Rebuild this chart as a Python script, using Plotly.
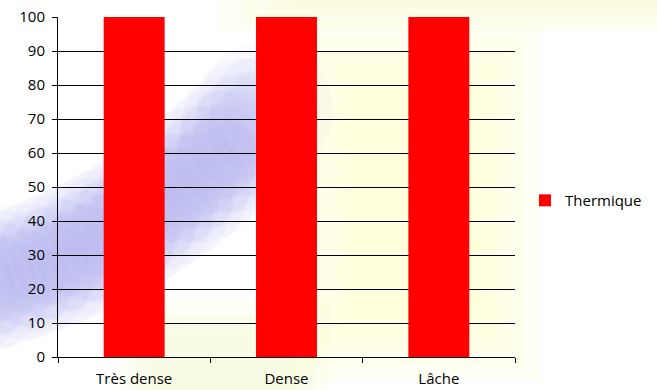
import plotly.graph_objects as go

categories = ["Très dense", "Dense", "Lâche"]
thermique = [100, 100, 100]
y_ticks = [0, 10, 20, 30, 40, 50, 60, 70, 80, 90, 100]

fig = go.Figure()
fig.add_trace(go.Bar(x=categories, y=thermique, name="Thermique",
                     marker=dict(color="#ff0000", line=dict(width=0))))

# soft, blurred background tints (stacked translucent shapes)
def px(x):
    return (x - 58) / 457
def py(y):
    return (357 - y) / 340

P0, C, P2 = (-40, 290), (140, 250), (265, 110)
n = 16
for i in range(n + 1):
    t = i / n
    cx = (1 - t) ** 2 * P0[0] + 2 * (1 - t) * t * C[0] + t ** 2 * P2[0]
    cy = (1 - t) ** 2 * P0[1] + 2 * (1 - t) * t * C[1] + t ** 2 * P2[1]
    for r in [68, 55, 42]:
        fig.add_shape(type="circle", xref="paper", yref="paper", layer="below",
                      x0=px(cx - r), x1=px(cx + r), y0=py(cy + r), y1=py(cy - r),
                      fillcolor="rgba(160,160,245,0.06)", line=dict(width=0))

for inset in [0, 15, 30, 45, 60]:
    fig.add_shape(type="rect", xref="paper", yref="paper", layer="below",
                  x0=px(290 + inset), x1=px(540 - inset), y0=py(380 - inset), y1=py(20 + inset),
                  fillcolor="rgba(252,252,185,0.12)", line=dict(width=0))
for inset in [0, 8, 16, 24]:
    fig.add_shape(type="rect", xref="paper", yref="paper", layer="below",
                  x0=px(220 + inset * 3), x1=px(660), y0=py(32 - inset), y1=py(-10),
                  fillcolor="rgba(245,250,190,0.14)", line=dict(width=0))
for inset in [0, 15, 30]:
    fig.add_shape(type="rect", xref="paper", yref="paper", layer="below",
                  x0=px(120 + inset), x1=px(330 - inset), y0=py(400), y1=py(300 + inset),
                  fillcolor="rgba(240,245,190,0.15)", line=dict(width=0))

fig.update_layout(
    width=657, height=390,
    margin=dict(l=58, r=142, t=17, b=33, autoexpand=False),
    paper_bgcolor="white", plot_bgcolor="rgba(0,0,0,0)",
    font=dict(family="Open Sans, sans-serif", size=15, color="#000000"),
    bargap=0.6,
    showlegend=True,
    legend=dict(x=1 + (525 - 515) / 457, y=0.46, xanchor="left", yanchor="middle",
                font=dict(size=15), itemwidth=30, bgcolor="rgba(0,0,0,0)"),
    xaxis=dict(showline=True, linecolor="black", linewidth=1,
               ticks="outside", tickson="boundaries", ticklen=5, tickcolor="black",
               ticklabelstandoff=8, showgrid=False),
    yaxis=dict(range=[0, 100], tickvals=y_ticks, showline=True, linecolor="black",
               linewidth=1, ticks="outside", ticklen=5, tickcolor="black",
               ticklabelstandoff=4,
               showgrid=True, gridcolor="black", gridwidth=1, zeroline=False),
)

fig.write_html("out.html")
